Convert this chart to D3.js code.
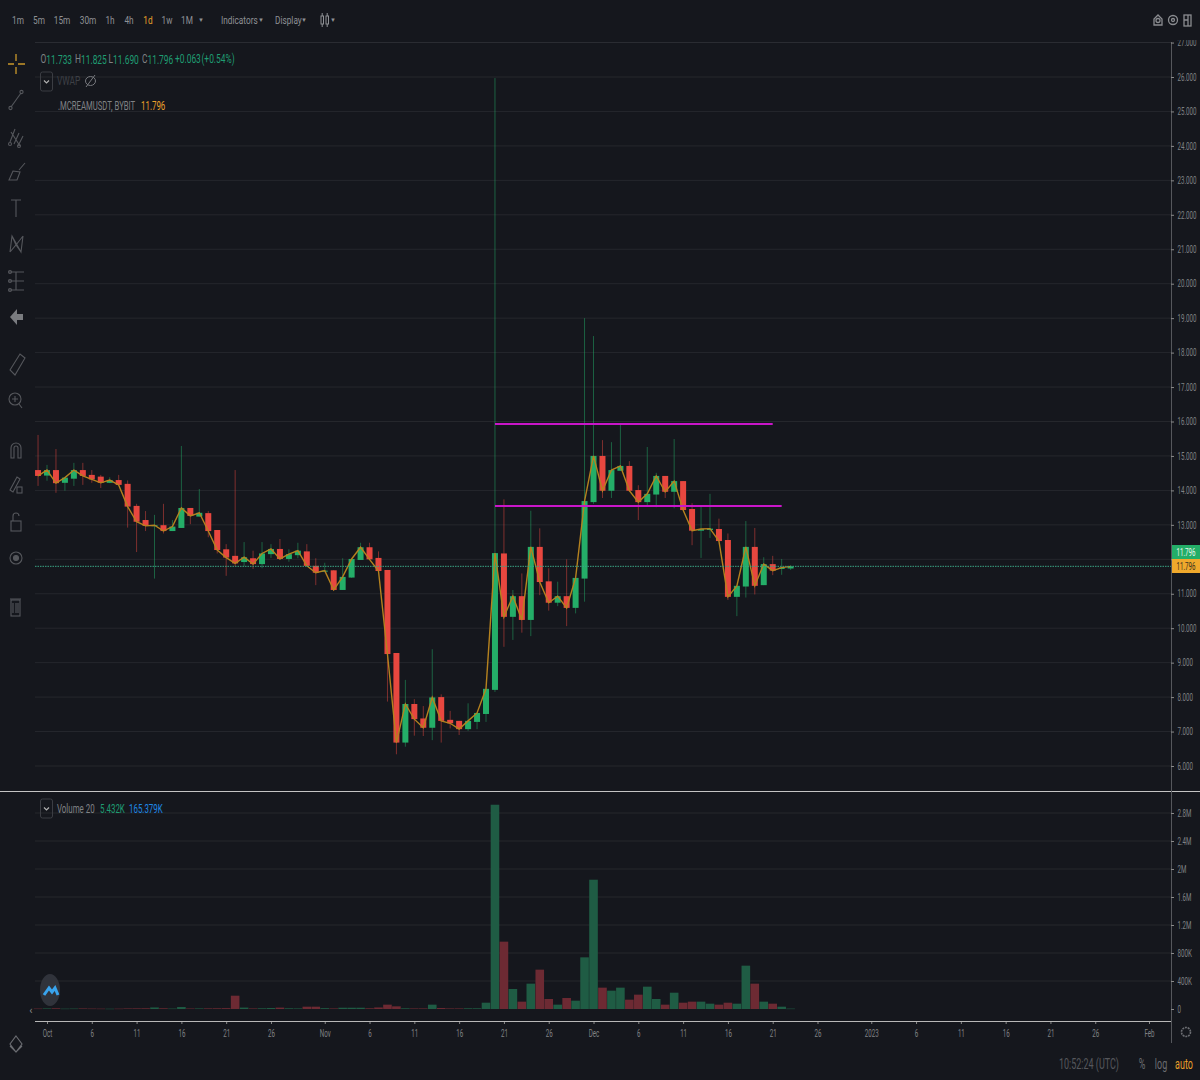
<!DOCTYPE html>
<html>
<head>
<meta charset="utf-8">
<script src="https://cdnjs.cloudflare.com/ajax/libs/d3/7.8.5/d3.min.js"></script>
<style>
  html, body { margin: 0; padding: 0; background: #15171d; }
  svg { display: block; }
  text { font-family: Roboto, sans-serif; }
</style>
</head>
<body>
<div id="chart"></div>
<script>
// daily candles, first one is 30 Sep 2022
const firstDay = Date.UTC(2022, 8, 30);
const opens = [
  14.59,14.43,14.59,14.22,14.34,14.59,14.45,14.40,14.22,14.30,
  14.19,13.55,13.14,12.97,12.99,12.82,12.91,13.49,13.24,13.34,
  12.85,12.29,12.10,11.92,12.03,11.86,12.15,12.30,12.01,12.12,
  12.23,11.81,11.66,11.68,11.11,11.47,11.98,12.35,12.04,11.69,
  9.28,6.68,7.80,7.38,7.11,8.00,7.34,7.31,7.07,7.28,
  7.51,8.21,12.17,10.33,10.93,10.24,12.36,11.36,10.74,10.93,
  10.59,11.44,13.66,15.00,13.99,14.57,14.71,14.01,13.66,13.88,
  14.42,13.96,14.27,13.46,12.83,12.85,12.88,12.56,10.91,11.21,
  12.36,11.25,11.86,11.72,11.733];
const highs = [
  15.61,14.74,15.20,14.39,14.80,14.80,14.59,14.45,14.38,14.45,
  14.29,13.61,13.40,13.29,13.61,13.14,15.29,13.49,14.04,13.40,
  12.85,12.44,14.59,12.50,12.25,12.50,12.44,12.59,12.29,12.48,
  12.44,12.03,11.90,11.69,12.03,12.01,12.48,12.48,12.23,11.69,
  9.28,8.50,7.94,7.74,9.39,8.08,7.60,7.31,7.82,7.54,
  8.24,25.97,13.74,11.11,11.59,13.41,12.90,11.74,11.35,12.00,
  11.46,19.00,18.48,15.46,15.40,15.90,14.85,14.15,15.26,14.51,
  14.42,15.49,14.27,13.63,13.53,13.90,13.18,12.75,11.23,13.11,
  12.91,12.06,12.10,12.01,11.825];
const lows = [
  14.13,14.28,13.93,13.99,14.13,14.16,14.22,14.07,14.21,14.14,
  12.92,12.21,12.82,11.44,12.75,12.82,12.91,13.02,13.24,12.64,
  12.17,11.52,11.79,11.79,11.72,11.74,12.04,11.98,11.93,12.03,
  11.81,11.25,11.63,11.09,11.11,11.46,11.98,11.98,11.66,7.87,
  6.34,6.56,6.88,6.87,6.75,6.68,7.09,6.90,7.02,7.07,
  7.28,8.15,9.46,9.66,9.87,9.77,10.96,10.51,10.64,10.06,
  10.43,10.77,13.61,13.78,13.78,14.57,13.96,13.14,13.55,13.51,
  13.78,13.48,13.43,12.41,12.04,12.62,12.53,10.82,10.35,10.89,
  10.98,11.25,11.54,11.55,11.690];
const closes = [
  14.42,14.59,14.21,14.37,14.59,14.42,14.32,14.22,14.30,14.16,
  13.53,13.09,12.97,12.99,12.82,12.95,13.49,13.26,13.35,12.82,
  12.27,12.05,11.88,12.06,11.86,12.17,12.30,12.01,12.15,12.25,
  11.81,11.61,11.67,11.11,11.49,12.01,12.35,12.00,11.66,9.25,
  6.68,7.80,7.36,7.11,7.99,7.31,7.24,7.07,7.31,7.54,
  8.24,12.18,10.33,10.93,10.24,12.36,11.34,10.74,10.93,10.59,
  11.46,13.69,15.00,13.99,14.59,14.71,13.99,13.66,13.90,14.42,
  13.96,14.27,13.43,12.83,12.88,12.89,12.53,10.91,11.23,12.36,
  11.23,11.86,11.67,11.76,11.796];
// volume in thousands
const volumes = [
  6,8,10,5,6,8,6,5,4,5,
  8,9,10,22,10,6,28,7,8,9,
  10,12,190,20,8,10,14,20,10,8,
  33,33,12,8,18,18,18,10,22,62,
  38,10,8,8,62,14,8,8,10,10,
  90,2918,962,286,105,362,562,143,62,157,
  119,738,1847,305,262,305,133,205,319,143,
  62,233,90,105,105,76,62,90,76,619,
  362,105,76,33,5.432];

const priceTicks = d3.range(6, 28);
const volumeTicks = [0, 400, 800, 1200, 1600, 2000, 2400, 2800];
const timeTicks = [
  [2022,9,1,'Oct'],[2022,9,6,'6'],[2022,9,11,'11'],[2022,9,16,'16'],[2022,9,21,'21'],[2022,9,26,'26'],
  [2022,10,1,'Nov'],[2022,10,6,'6'],[2022,10,11,'11'],[2022,10,16,'16'],[2022,10,21,'21'],[2022,10,26,'26'],
  [2022,11,1,'Dec'],[2022,11,6,'6'],[2022,11,11,'11'],[2022,11,16,'16'],[2022,11,21,'21'],[2022,11,26,'26'],
  [2023,0,1,'2023'],[2023,0,6,'6'],[2023,0,11,'11'],[2023,0,16,'16'],[2023,0,21,'21'],[2023,0,26,'26'],
  [2023,1,1,'Feb']];
// the two drawn levels: price, first day, last day
const levels = [
  [15.93, Date.UTC(2022,10,20), Date.UTC(2022,11,21)],
  [13.55, Date.UTC(2022,10,20), Date.UTC(2022,11,22)]];
const timeframes = ['1m','5m','15m','30m','1h','4h','1d','1w','1M'];

const width = 1200, height = 1080;
const left = 35, right = 1171;
const GREEN = '#24ae68', RED = '#e8473f';
const GREEN_DIM = '#1f5c44', RED_DIM = '#6d2a33';
const TEXT = '#808285';

const svg = d3.select('#chart').append('svg').attr('width', width).attr('height', height);
svg.append('rect').attr('width', width).attr('height', height).attr('fill', '#15171d');
svg.append('clipPath').attr('id', 'axisClip').append('rect')
  .attr('x', 0).attr('y', 40).attr('width', width).attr('height', height);

const x = d3.scaleUtc()
  .domain([Date.UTC(2022, 9, 1), Date.UTC(2023, 1, 1)])
  .range([47, 1149]);
const y = d3.scaleLinear().domain([6, 26]).range([766, 77]);
const yVol = d3.scaleLinear().domain([0, 2800]).range([1009, 813]);

const candles = closes.map((c, i) => ({
  t: firstDay + i * 864e5, o: opens[i], h: highs[i], l: lows[i], c: c, v: volumes[i]
}));

// the reference text is squeezed sideways, sx does that here
function label(parent, px, py, str, color, anchor, size, sx) {
  return parent.append('text')
    .attr('transform', `translate(${px},${py}) scale(${sx || 0.7},1)`)
    .attr('fill', color || TEXT)
    .attr('font-size', size || 12)
    .attr('text-anchor', anchor || 'start')
    .attr('dominant-baseline', 'central')
    .text(str);
}

// grid
const grid = svg.append('g').attr('stroke', '#fff').attr('stroke-opacity', 0.07);
grid.selectAll('.p').data(priceTicks).enter().append('line')
  .attr('x1', left).attr('x2', right).attr('y1', d => y(d)).attr('y2', d => y(d));
grid.selectAll('.v').data(volumeTicks.slice(1)).enter().append('line')
  .attr('x1', left).attr('x2', right).attr('y1', d => yVol(d)).attr('y2', d => yVol(d));

// volume
svg.append('g').selectAll('rect').data(candles).enter().append('rect')
  .attr('x', d => x(d.t) - 4.3)
  .attr('width', 8.6)
  .attr('y', d => yVol(d.v))
  .attr('height', d => Math.max(0.5, yVol(0) - yVol(d.v)))
  .attr('fill', d => d.c >= d.o ? GREEN_DIM : RED_DIM);

// wicks then bodies
const plot = svg.append('g');
plot.selectAll('.wick').data(candles).enter().append('line')
  .attr('class', 'wick')
  .attr('x1', d => x(d.t)).attr('x2', d => x(d.t))
  .attr('y1', d => y(d.h)).attr('y2', d => y(d.l))
  .attr('stroke', d => d.c >= d.o ? GREEN : RED)
  .attr('stroke-opacity', 0.5);
plot.selectAll('.body').data(candles).enter().append('rect')
  .attr('class', 'body')
  .attr('x', d => x(d.t) - 3)
  .attr('width', 6)
  .attr('y', d => y(Math.max(d.o, d.c)))
  .attr('height', d => Math.max(1, Math.abs(y(d.o) - y(d.c))))
  .attr('fill', d => d.c >= d.o ? GREEN : RED);

// close line on top of the candles
const closeLine = d3.line().x(d => x(d.t)).y(d => y(d.c));
plot.append('path').datum(candles)
  .attr('d', closeLine)
  .attr('fill', 'none')
  .attr('stroke', '#b5821f')
  .attr('stroke-width', 1.4);

// drawn levels
svg.append('g').selectAll('line').data(levels).enter().append('line')
  .attr('x1', d => x(d[1])).attr('x2', d => x(d[2]))
  .attr('y1', d => y(d[0])).attr('y2', d => y(d[0]))
  .attr('stroke', '#c916c9').attr('stroke-width', 2);

// last price
const last = closes[closes.length - 1];
svg.append('line')
  .attr('x1', left).attr('x2', right).attr('y1', y(last)).attr('y2', y(last))
  .attr('stroke', '#3aa584').attr('stroke-dasharray', '1.5 1');

// frame lines
svg.append('line').attr('x1', left).attr('x2', right).attr('y1', 42.5).attr('y2', 42.5).attr('stroke', '#2a2c32');
svg.append('line').attr('x1', 0).attr('x2', width).attr('y1', 791.5).attr('y2', 791.5).attr('stroke', '#c4c4c4');
svg.append('line').attr('x1', right + 0.5).attr('x2', right + 0.5).attr('y1', 42).attr('y2', 1043).attr('stroke', '#55575c');

function styleRightAxis(g) {
  g.select('.domain').remove();
  g.selectAll('line').attr('stroke', '#8a8a8a');
  g.selectAll('text').attr('fill', TEXT).attr('font-size', 10)
    .attr('x', 0).attr('transform', 'translate(6.5,0) scale(0.62,1)')
    .style('font-family', 'Roboto, sans-serif');
}

svg.append('g').attr('clip-path', 'url(#axisClip)')
  .attr('transform', `translate(${right},0)`)
  .call(d3.axisRight(y).tickValues(priceTicks).tickSize(3).tickPadding(3).tickFormat(d3.format('.3f')))
  .call(styleRightAxis);

function volFormat(d) {
  if (d === 0) return '0';
  return d >= 1000 ? (d / 1000) + 'M' : d + 'K';
}
svg.append('g')
  .attr('transform', `translate(${right},0)`)
  .call(d3.axisRight(yVol).tickValues(volumeTicks).tickSize(3).tickPadding(3).tickFormat(volFormat))
  .call(styleRightAxis);

const timeLabels = new Map(timeTicks.map(t => [Date.UTC(t[0], t[1], t[2]), t[3]]));
svg.append('g')
  .attr('transform', 'translate(0,1021)')
  .call(d3.axisBottom(x)
    .tickValues(timeTicks.map(t => new Date(Date.UTC(t[0], t[1], t[2]))))
    .tickSize(3).tickPadding(6)
    .tickFormat(d => timeLabels.get(+d)))
  .call(g => {
    g.select('.domain').remove();
    g.selectAll('line').attr('stroke', '#8a8a8a');
    g.selectAll('text').attr('fill', TEXT).attr('font-size', 10)
      .attr('transform', 'scale(0.62,1)')
      .style('font-family', 'Roboto, sans-serif');
  });
svg.append('line').attr('x1', left).attr('x2', right).attr('y1', 1021.5).attr('y2', 1021.5).attr('stroke', '#b8b8b8');

// price tags
svg.append('rect').attr('x', 1172).attr('y', 545).attr('width', 28).attr('height', 14).attr('fill', '#24ae68');
svg.append('rect').attr('x', 1172).attr('y', 559).attr('width', 28).attr('height', 14).attr('fill', '#f0a92c');
label(svg, 1186, 552, '11.796', '#e8f5ee', 'middle', 10, 0.62);
label(svg, 1186, 566, '11.796', '#3a3220', 'middle', 10, 0.62);

// top bar
const tfX = [18, 39, 62, 88, 110, 129, 148, 167, 187];
timeframes.forEach((t, i) => label(svg, tfX[i], 20, t, t === '1d' ? '#e9a02b' : '#8f9195', 'middle', 11.5, 0.72));
[201, 261, 304, 333].forEach(p => label(svg, p, 19.5, '▼', '#8f9195', 'middle', 6, 1));
label(svg, 221, 20, 'Indicators', '#8f9195', 'start', 11.5, 0.72);
label(svg, 275, 20, 'Display', '#8f9195', 'start', 11.5, 0.72);
const kIcon = svg.append('g').attr('stroke', '#8f9195').attr('fill', 'none');
kIcon.append('rect').attr('x', 321).attr('y', 16).attr('width', 2.5).attr('height', 8);
kIcon.append('rect').attr('x', 326).attr('y', 16).attr('width', 2.5).attr('height', 8);
kIcon.append('path').attr('d', 'M322.2 13v3M322.2 24v3M327.2 13v3M327.2 24v3');

// OHLC legend
const legendGreen = '#1f9c72';
[[40.5, 'O', '11.733'], [75, 'H', '11.825'], [108.5, 'L', '11.690'], [142, 'C', '11.796']].forEach(p => {
  const t = label(svg, p[0], 59, p[1], TEXT);
  t.append('tspan').attr('fill', legendGreen).text(p[2]);
});
label(svg, 175, 59, '+0.063', legendGreen);
label(svg, 201.5, 59, '(+0.54%)', legendGreen);

// series rows
function chevronBox(py) {
  svg.append('rect').attr('x', 40.5).attr('y', py).attr('width', 12).attr('height', 19).attr('rx', 2)
    .attr('fill', 'none').attr('stroke', '#3b3d43');
  svg.append('path').attr('d', `M44 ${py + 8.5}l2.5 2.5l2.5-2.5`).attr('fill', 'none').attr('stroke', '#b0b0b0').attr('stroke-width', 1.2);
}
chevronBox(72);
label(svg, 57, 81, 'VWAP', '#3e4046');
svg.append('ellipse').attr('cx', 90.5).attr('cy', 81).attr('rx', 5).attr('ry', 4.5).attr('fill', 'none').attr('stroke', '#77797e');
svg.append('path').attr('d', 'M86 87L95 75').attr('stroke', '#77797e');
label(svg, 58, 106, '.MCREAMUSDT, BYBIT', TEXT, 'start', 12, 0.645);
label(svg, 141, 106, '11.796', '#e9a02b', 'start', 12, 0.66);

chevronBox(799);
label(svg, 57, 809, 'Volume 20', TEXT, 'start', 12, 0.66);
label(svg, 100, 809, '5.432K', legendGreen, 'start', 12, 0.66);
label(svg, 129, 809, '165.379K', '#1e88e5', 'start', 12, 0.66);

// left tool icons
const tools = svg.append('g').attr('fill', 'none').attr('stroke', '#55575c').attr('stroke-width', 1.1);
tools.append('path').attr('d', 'M16 54v7M16 67v7M8 64h6M18 64h7').attr('stroke', '#c9982a').attr('stroke-width', 1.3);
tools.append('path').attr('d', 'M11 107L21 93');
tools.append('circle').attr('cx', 10.5).attr('cy', 108).attr('r', 1.6);
tools.append('circle').attr('cx', 21.5).attr('cy', 92).attr('r', 1.6);
tools.append('path').attr('d', 'M10 142L15 129M14 144L19 133M18 146L23 136M11 132L20 146');
tools.append('circle').attr('cx', 10).attr('cy', 144).attr('r', 1.5);
tools.append('circle').attr('cx', 19).attr('cy', 146).attr('r', 1.5);
tools.append('path').attr('d', 'M9 180L13 171L20 172L17 180ZM19 170L25 163');
tools.append('path').attr('d', 'M11 200h10M16 200v17');
tools.append('path').attr('d', 'M10 252L12 236L21 252L23 236M12 236L16 245L23 236M10 252L16 245L21 252');
tools.append('path').attr('d', 'M9 272h15M9 281h15M9 290h15M16 272v18');
tools.append('circle').attr('cx', 10).attr('cy', 272).attr('r', 1.5);
tools.append('circle').attr('cx', 10).attr('cy', 281).attr('r', 1.5);
tools.append('circle').attr('cx', 10).attr('cy', 290).attr('r', 1.5);
tools.append('path').attr('d', 'M10 317l7-8v5h6v6h-6v5Z').attr('fill', '#7a7c80').attr('stroke', 'none');
tools.append('path').attr('d', 'M10 370L20 354L25 358L15 375Z');
tools.append('circle').attr('cx', 15).attr('cy', 399).attr('r', 6);
tools.append('path').attr('d', 'M12 399h6M15 396v6M19 404l3 4');
tools.append('path').attr('d', 'M11 458v-10a5 5 0 0 1 10 0v10h-3v-10a2 2 0 0 0-4 0v10Z');
tools.append('path').attr('d', 'M10 490L17 477L20 479L13 492Z');
tools.append('rect').attr('x', 17).attr('y', 487).attr('width', 5).attr('height', 6);
tools.append('rect').attr('x', 11).attr('y', 521).attr('width', 10).attr('height', 10);
tools.append('path').attr('d', 'M13 521v-5a3 3 0 0 1 6 0');
tools.append('circle').attr('cx', 16).attr('cy', 558).attr('r', 6);
tools.append('circle').attr('cx', 16).attr('cy', 558).attr('r', 2.5).attr('fill', '#55575c');
tools.append('rect').attr('x', 11).attr('y', 600).attr('width', 9).attr('height', 16);
tools.append('path').attr('d', 'M10 599h11M13 603v10M16 603v10M18 603v10');
tools.append('path').attr('d', 'M16 1036l6 8l-6 8l-6-8Z M10 1046l6 6l6-6').attr('stroke', '#6b6d72');

// logo
svg.append('ellipse').attr('cx', 50).attr('cy', 990).attr('rx', 10).attr('ry', 16).attr('fill', '#30333b');
svg.append('path').attr('d', 'M44 995l5-7l3 4l3-4l3 7').attr('fill', 'none').attr('stroke', '#39a4ee').attr('stroke-width', 3);

// top right icons
const topIcons = svg.append('g').attr('fill', 'none').attr('stroke', '#8a8c90').attr('stroke-width', 1.3);
topIcons.append('path').attr('d', 'M1154 25v-6l4-4l4 4v6Z');
topIcons.append('circle').attr('cx', 1158).attr('cy', 20.5).attr('r', 2);
topIcons.append('circle').attr('cx', 1173).attr('cy', 20).attr('r', 4.5);
topIcons.append('circle').attr('cx', 1173).attr('cy', 20).attr('r', 1.5);
topIcons.append('rect').attr('x', 1184).attr('y', 15).attr('width', 7).attr('height', 11);
topIcons.append('path').attr('d', 'M1184 20h4M1188 15v11');

// bottom bar
label(svg, 1059, 1064, '10:52:24 (UTC)', '#55575c', 'start', 14.5, 0.62);
label(svg, 1142, 1064, '%', '#6b6d72', 'middle', 14.5, 0.62);
label(svg, 1161, 1064, 'log', '#6b6d72', 'middle', 14.5, 0.62);
label(svg, 1184, 1064, 'auto', '#e9a02b', 'middle', 14.5, 0.62);
svg.append('circle').attr('cx', 1186).attr('cy', 1032).attr('r', 4.5).attr('fill', 'none').attr('stroke', '#6b6d72').attr('stroke-dasharray', '2 .8').attr('stroke-width', 1.6);
label(svg, 31, 1010, '‹', '#8a8a8a', 'middle', 11, 1);
</script>
</body>
</html>
